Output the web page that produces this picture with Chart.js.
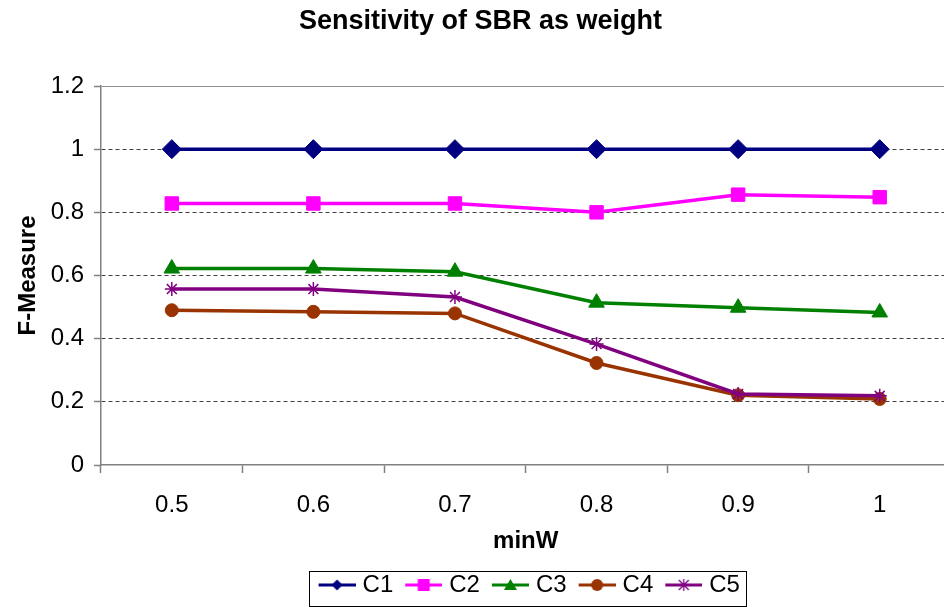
<!DOCTYPE html>
<html>
<head>
<meta charset="utf-8">
<script src="https://cdn.jsdelivr.net/npm/chart.js@4/dist/chart.umd.min.js"></script>
<style>
  html, body { margin: 0; padding: 0; overflow: hidden; background: #fff; }
  canvas { display: block; }
</style>
</head>
<body>
<canvas id="c" width="961" height="607" style="width:961px;height:607px"></canvas>
<script>
// ---- data ----
const categories = ['0.5', '0.6', '0.7', '0.8', '0.9', '1'];
const yTickLabels = ['0', '0.2', '0.4', '0.6', '0.8', '1', '1.2'];
const seriesNames = ['C1', 'C2', 'C3', 'C4', 'C5'];
const C1 = [1.000, 1.000, 1.000, 1.000, 1.000, 1.000];
const C2 = [0.828, 0.828, 0.828, 0.800, 0.856, 0.848];
const C3 = [0.622, 0.622, 0.612, 0.514, 0.498, 0.483];
const C4 = [0.490, 0.485, 0.480, 0.323, 0.221, 0.209];
const C5 = [0.557, 0.557, 0.532, 0.383, 0.225, 0.219];
const seriesValues = [C1, C2, C3, C4, C5];

// ---- styles ----
const colors = ['#000080', '#FF00FF', '#008000', '#993300', '#800080'];
const markers = ['rectRot', 'rect', 'triangle', 'circle', 'star'];
const radii = [9.5, 9.5, 9, 6.5, 7];
const FONT = "'Liberation Sans', Arial, sans-serif";

function legendImage(color, marker) {
  const cv = document.createElement('canvas');
  cv.width = 49; cv.height = 16;
  const g = cv.getContext('2d');
  g.strokeStyle = color; g.fillStyle = color; g.lineWidth = 3;
  g.beginPath(); g.moveTo(12, 8); g.lineTo(49, 8); g.stroke();
  const cx = 30.5, cy = 8;
  g.beginPath();
  if (marker === 'rectRot') {
    g.moveTo(cx, cy - 5.5); g.lineTo(cx + 5.5, cy); g.lineTo(cx, cy + 5.5); g.lineTo(cx - 5.5, cy); g.closePath(); g.fill();
  } else if (marker === 'rect') {
    g.rect(cx - 6, cy - 6, 12, 12); g.fill();
  } else if (marker === 'triangle') {
    g.moveTo(cx, cy - 6); g.lineTo(cx + 6.5, cy + 5); g.lineTo(cx - 6.5, cy + 5); g.closePath(); g.fill();
  } else if (marker === 'circle') {
    g.arc(cx, cy, 6, 0, Math.PI * 2); g.fill();
  } else {
    g.lineWidth = 1.3;
    g.moveTo(cx, cy - 6); g.lineTo(cx, cy + 6);
    g.moveTo(cx - 5, cy - 5); g.lineTo(cx + 5, cy + 5);
    g.moveTo(cx - 5, cy + 5); g.lineTo(cx + 5, cy - 5);
    g.stroke();
  }
  return cv;
}

const datasets = seriesNames.map((name, i) => ({
  label: name,
  data: seriesValues[i],
  borderColor: colors[i],
  backgroundColor: colors[i],
  borderWidth: 3.5,
  pointStyle: markers[i],
  pointRadius: radii[i],
  pointBorderWidth: markers[i] === 'star' ? 1.5 : 1,
  pointBackgroundColor: colors[i],
  pointBorderColor: colors[i],
  tension: 0,
  fill: false,
  order: seriesNames.length - i
}));

const legendBoxPlugin = {
  id: 'legendBox',
  afterDraw(chart) {
    const lg = chart.legend;
    if (!lg || !lg.legendHitBoxes || !lg.legendHitBoxes.length) return;
    const hb = lg.legendHitBoxes;
    const last = hb[hb.length - 1];
    const left = Math.round(hb[0].left - 2) - 0.5;
    const right = Math.round(last.left + last.width + 6) + 0.5;
    const top = Math.round(lg.top + 3) + 0.5;
    const bottom = Math.round(lg.bottom) - 0.5;
    const ctx = chart.ctx;
    ctx.save();
    ctx.strokeStyle = '#000';
    ctx.lineWidth = 1;
    ctx.strokeRect(left, top, right - left, bottom - top);
    ctx.restore();
  }
};

new Chart(document.getElementById('c'), {
  type: 'line',
  data: { labels: categories, datasets },
  plugins: [legendBoxPlugin],
  options: {
    responsive: false,
    animation: false,
    devicePixelRatio: 1,
    layout: { padding: { left: 0, right: 0, top: 0, bottom: 0 } },
    plugins: {
      tooltip: { enabled: false },
      title: {
        display: true,
        text: 'Sensitivity of SBR as weight',
        color: '#000',
        font: { family: FONT, size: 27, weight: 'bold' },
        padding: { top: 5.8, bottom: 47.8 }
      },
      legend: {
        display: true,
        position: 'bottom',
        fullSize: false,
        labels: {
          usePointStyle: true,
          pointStyleWidth: 39,
          padding: 5,
          color: '#000',
          font: { family: FONT, size: 24 },
          generateLabels(chart) {
            return chart.data.datasets.map((ds, i) => ({
              text: ds.label,
              fillStyle: ds.backgroundColor,
              strokeStyle: ds.borderColor,
              lineWidth: 0,
              pointStyle: legendImage(colors[i], markers[i]),
              hidden: false,
              datasetIndex: i,
              fontColor: '#000'
            }));
          }
        }
      }
    },
    scales: {
      x: {
        type: 'category',
        offset: true,
        afterFit(scale) { scale.height = 103; },
        grid: {
          offset: true,
          drawOnChartArea: false,
          drawTicks: true,
          tickLength: 8,
          tickColor: '#808080',
          tickWidth: 1.5
        },
        border: { display: true, color: '#808080', width: 1.5 },
        ticks: {
          color: '#000',
          font: { family: FONT, size: 24 },
          padding: 18,
          maxRotation: 0,
          autoSkip: false
        },
        title: {
          display: true,
          text: 'minW',
          color: '#000',
          font: { family: FONT, size: 24, weight: 'bold' },
          padding: { top: 0, bottom: 12.6 }
        }
      },
      y: {
        min: 0,
        max: 1.2,
        afterFit(scale) { scale.width = 101; },
        ticks: {
          stepSize: 0.2,
          color: '#000',
          font: { family: FONT, size: 24 },
          padding: 10,
          callback: (v, i) => yTickLabels[i]
        },
        grid: {
          drawOnChartArea: true,
          drawTicks: true,
          tickLength: 7,
          tickColor: '#808080',
          tickWidth: 1.5,
          lineWidth: 1,
          color: (ctx) => {
            if (ctx.type !== 'tick') return '#808080';
            if (ctx.index === 0) return 'rgba(0,0,0,0)';
            if (ctx.index === yTickLabels.length - 1) return '#909090';
            return '#404040';
          }
        },
        border: {
          display: true,
          color: '#808080',
          width: 1.5,
          dash: (ctx) => (ctx.type === 'tick' && ctx.index > 0 && ctx.index < yTickLabels.length - 1) ? [4, 3] : []
        },
        title: {
          display: true,
          text: 'F-Measure',
          color: '#000',
          font: { family: FONT, size: 24, weight: 'bold' },
          padding: { top: 13.6, bottom: 0 }
        }
      }
    }
  }
});
</script>
</body>
</html>
